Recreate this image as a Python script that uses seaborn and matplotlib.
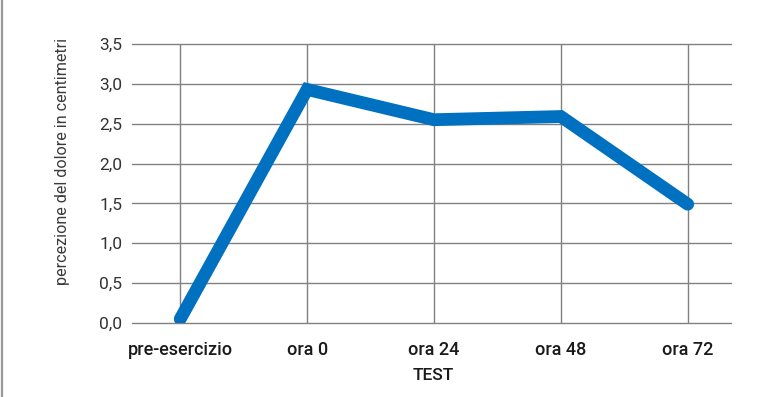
import matplotlib
matplotlib.use('Agg')
import matplotlib.pyplot as plt
import seaborn as sns
import pandas as pd
from matplotlib.lines import Line2D

# data
momenti = ['pre-esercizio', 'ora 0', 'ora 24', 'ora 48', 'ora 72']
dolore = [0.05, 2.93, 2.55, 2.59, 1.49]
y_ticks = [0.0, 0.5, 1.0, 1.5, 2.0, 2.5, 3.0, 3.5]
y_tick_labels = ['0,0', '0,5', '1,0', '1,5', '2,0', '2,5', '3,0', '3,5']

df = pd.DataFrame({'TEST': momenti, 'dolore': dolore})

sns.set_style('white')
plt.rcParams['font.family'] = ['Liberation Sans Narrow', 'DejaVu Sans Condensed', 'Roboto', 'DejaVu Sans']

fig = plt.figure(figsize=(7.82, 3.97), dpi=100)
ax = fig.add_axes([0.1688, 0.1864, 0.7666, 0.7028])

sns.lineplot(data=df, x='TEST', y='dolore', ax=ax, color='#0070c0',
             linewidth=9.2, solid_capstyle='round', solid_joinstyle='miter',
             zorder=3)

ax.set_ylim(0, 3.5)
ax.set_xlim(-0.38, 4.345)
ax.set_yticks(y_ticks)
ax.set_yticklabels(y_tick_labels, fontsize=12.5, color='#333333')
ax.set_xticks(range(len(momenti)))
ax.set_xticklabels(momenti, fontsize=13, color='#1a1a1a', fontweight='medium')
ax.tick_params(axis='both', length=0)
ax.tick_params(axis='y', pad=7)
ax.tick_params(axis='x', pad=13)

ax.grid(True, color='#808080', linewidth=1.0)
ax.set_axisbelow(True)
for gl in ax.get_ygridlines() + ax.get_xgridlines():
    gl.set_clip_on(False)
for s in ax.spines.values():
    s.set_visible(False)

ax.set_ylabel('percezione del dolore in centimetri', fontsize=11.6, color='#3a3a3a')
ax.yaxis.set_label_coords(-0.103, 0.579)
ax.set_xlabel('TEST', fontsize=12.5, color='#1a1a1a', fontweight='medium')
ax.xaxis.set_label_coords(0.5025, -0.163)

# grey border on the left edge of the figure
fig.add_artist(Line2D([0.002, 0.002], [0, 1], transform=fig.transFigure,
                      color='#9a9a9a', linewidth=1.6))

fig.savefig('out.png', dpi=100)
